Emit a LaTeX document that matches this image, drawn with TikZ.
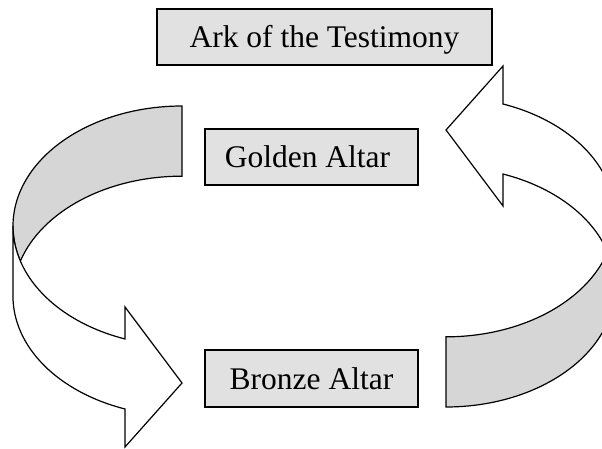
\documentclass[tikz,border=0pt]{standalone}
\usepackage{fontspec}
\setmainfont{Liberation Serif}
\definecolor{boxgray}{RGB}{225,225,225}
\definecolor{ribbongray}{RGB}{214,214,214}
\begin{document}
\begin{tikzpicture}[x=1pt,y=1pt,
  box/.style={draw=black, line width=1.3pt, fill=boxgray, rectangle, inner sep=0pt, outer sep=0pt,
    minimum height=56pt, text height=21pt, text depth=0pt, font=\fontsize{31.5}{36}\selectfont},
  ribbon/.style={draw=black, line width=1.2pt, line join=miter},
  er/.style={x radius=169pt, y radius=120pt}]
\useasboundingbox (0,0) rectangle (602,448);
\newcommand{\curvedarrow}{%
  \path[ribbon, fill=ribbongray] (182,342) arc[start angle=90, end angle=197, er]
    arc[start angle=163, end angle=90, er] -- cycle;
  \path[ribbon, fill=white] (20.38,186.91) arc[start angle=197, end angle=250.3, er]
    -- (125,141) -- (182,65) -- (125,1) -- (125,39.02)
    arc[start angle=250.3, end angle=180, er] -- (13,222)
    arc[start angle=180, end angle=197, er] -- cycle;
}
\begin{scope}
  \clip (0,0) rectangle (602,448);
  \curvedarrow
  \begin{scope}[rotate around={180:(314,191.5)}]
    \curvedarrow
  \end{scope}
\end{scope}
\node[box, minimum width=335pt] (ark) at (324.5,411) {Ark of the Testimony};
\node[box, minimum width=213pt] (golden) at (311.5,291) {Golden Altar\hspace*{8pt}};
\node[box, minimum width=213pt, minimum height=57pt] (bronze) at (311.5,69.5) {Bronze Altar};
\end{tikzpicture}
\end{document}
